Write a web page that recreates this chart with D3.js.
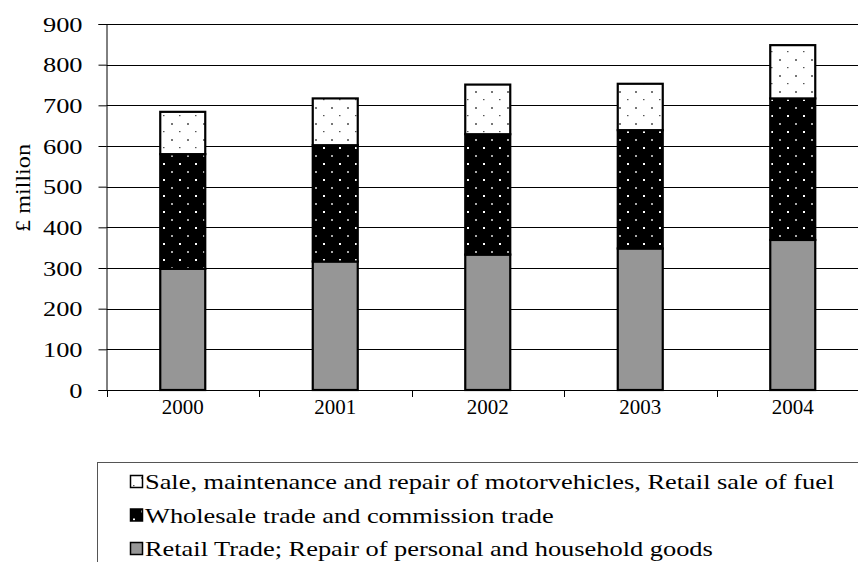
<!DOCTYPE html>
<html><head><meta charset="utf-8">
<script src="https://cdn.jsdelivr.net/npm/d3@7"></script>
<style>body{margin:0;background:#fff} svg{display:block}</style>
</head><body><svg id="c" width="858" height="562"></svg>
<script>
const years = ["2000","2001","2002","2003","2004"];
const retail = [298,316,333,348,369];
const wholesale = [282,286,296,291,348];
const motor = [104,115,122,114,131];
const seriesNames = [
  "Sale, maintenance and repair of motorvehicles, Retail sale of fuel",
  "Wholesale trade and commission trade",
  "Retail Trade; Repair of personal and household goods"
];
const yTicks = [0,100,200,300,400,500,600,700,800,900];
const yTitle = "£  million";

const FONT = '"Liberation Serif","Times New Roman",serif';
const SX = 1.2; // horizontal stretch of the reference text
const svg = d3.select("#c");
const defs = svg.append("defs");

// patterns
const pW = defs.append("pattern").attr("id","pWhite").attr("patternUnits","userSpaceOnUse")
  .attr("width",16).attr("height",16);
pW.append("rect").attr("width",16).attr("height",16).attr("fill","#fff");
pW.append("rect").attr("x",3).attr("y",3).attr("width",1.5).attr("height",1.2).attr("fill","#555");
pW.append("rect").attr("x",11).attr("y",11).attr("width",2).attr("height",2).attr("fill","#777");
const pB = defs.append("pattern").attr("id","pBlack").attr("patternUnits","userSpaceOnUse")
  .attr("width",16).attr("height",16);
pB.append("rect").attr("width",16).attr("height",16).attr("fill","#000");
pB.append("rect").attr("x",3).attr("y",3).attr("width",2).attr("height",2).attr("fill","#fff");
pB.append("rect").attr("x",11).attr("y",11).attr("width",2).attr("height",2).attr("fill","#aaa");

const fills = ["url(#pWhite)","url(#pBlack)","#969696"];

const mLeft = 106.5, mTop = 24, mBottom = 390, mRight = 869;
const x = d3.scaleBand().domain(years).range([mLeft, mRight]);
const y = d3.scaleLinear().domain([0,900]).range([mBottom, mTop]);

// gridlines
svg.append("g").selectAll("line").data(yTicks.filter(d=>d>0)).join("line")
  .attr("x1", mLeft).attr("x2", 858)
  .attr("y1", d=>Math.round(y(d))+0.5).attr("y2", d=>Math.round(y(d))+0.5)
  .attr("stroke","#000").attr("stroke-width",1);

// stacked data
const rows = years.map((yr,i)=>({year:yr, retail:retail[i], wholesale:wholesale[i], motor:motor[i]}));
const stack = d3.stack().keys(["retail","wholesale","motor"])(rows);
const fillByKey = {retail:fills[2], wholesale:fills[1], motor:fills[0]};
const barW = 45;
stack.forEach(layer=>{
  svg.append("g").selectAll("rect").data(layer).join("rect")
    .attr("x", d=>x(d.data.year)+x.bandwidth()/2-barW/2)
    .attr("width", barW)
    .attr("y", d=>y(d[1]))
    .attr("height", d=>y(d[0])-y(d[1]))
    .attr("fill", fillByKey[layer.key])
    .attr("stroke","#000").attr("stroke-width",2.2);
});

// y axis
const ya = svg.append("g").attr("transform",`translate(${mLeft},0)`)
  .call(d3.axisLeft(y).tickValues(yTicks).tickSize(8).tickPadding(16));
ya.select(".domain").attr("stroke","#000");
ya.selectAll(".tick line").attr("stroke","#000");
ya.selectAll("text").style("font-family",FONT).style("font-size","22px").attr("fill","#000")
  .attr("x", -24/SX).attr("transform",`scale(${SX},1)`);

// x axis
const xa = svg.append("g").attr("transform",`translate(0,${mBottom})`)
  .call(d3.axisBottom(x).tickSize(0).tickPadding(10));
xa.select(".domain").attr("stroke","#000").attr("d",`M${mLeft},0.5H858`);
xa.selectAll("text").style("font-family",FONT).style("font-size","20px").attr("fill","#000")
  .attr("transform","scale(1.05,1)");
xa.append("g").selectAll("line").data(years).join("line")
  .attr("x1", d=>Math.round(x(d))+0.5).attr("x2", d=>Math.round(x(d))+0.5)
  .attr("y1",0).attr("y2",7).attr("stroke","#000");

// y label
svg.append("text").attr("transform",`translate(22,188) rotate(-90) scale(1.1,1)`)
  .attr("text-anchor","middle").attr("dy","0.35em")
  .style("font-family",FONT).style("font-size","22px")
  .text(yTitle);

// legend
const lg = svg.append("g");
lg.append("rect").attr("x",97.5).attr("y",462.5).attr("width",900).attr("height",200)
  .attr("fill","#fff").attr("stroke","#555");
const legendRows = [0,1,2];
const li = lg.selectAll("g.item").data(legendRows).join("g").attr("class","item")
  .attr("transform",(d,i)=>`translate(130,${482+i*33.5})`);
li.append("rect").attr("x",0.5).attr("y",-6.5).attr("width",12).attr("height",12)
  .attr("fill",d=>fills[d]).attr("stroke","#000").attr("stroke-width",1.5);
li.append("text").attr("x",15/SX).attr("y",0).attr("dy","0.33em")
  .attr("transform",`scale(${SX},1)`)
  .style("font-family",FONT).style("font-size","22px").text(d=>seriesNames[d]);
</script></body></html>
